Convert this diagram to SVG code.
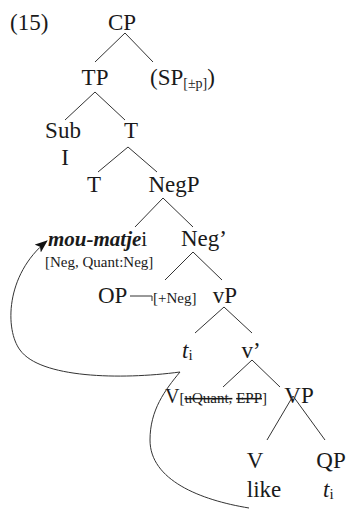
<svg xmlns="http://www.w3.org/2000/svg" width="348" height="509" viewBox="0 0 348 509">
<style>
text{font-family:"Liberation Serif","Times New Roman",serif;fill:#1a1a1a}
.n{font-size:23px;text-anchor:middle}
.s{font-size:15px}
.e{stroke:#333;stroke-width:1;fill:none}
.st{text-decoration:line-through}
</style>
<defs>
<marker id="ah" markerWidth="13" markerHeight="10" refX="12" refY="5" orient="auto" markerUnits="userSpaceOnUse"><path d="M0,0 L13,5 L0,10 L3,5 z" fill="#111"/></marker>
</defs>
<text x="10" y="30" style="font-size:23px">(15)</text>
<g id="cp"><text class="n" x="122" y="30">CP</text></g>
<g id="tp"><text class="n" x="95" y="85">TP</text></g>
<g id="sp"><text x="150" y="85" style="font-size:23px">(SP<tspan style="font-size:14px" dy="3">[±p]</tspan><tspan dy="-3">)</tspan></text></g>
<g id="sub"><text class="n" x="63" y="138">Sub</text><text class="n" x="65" y="165">I</text></g>
<g id="tbar"><text class="n" x="131" y="138">T</text></g>
<g id="t"><text class="n" x="94" y="192">T</text></g>
<g id="negp"><text class="n" x="174" y="192">NegP</text></g>
<g id="moumatje"><text x="48" y="246" style="font-size:21px;font-weight:bold;font-style:italic">mou-matje<tspan style="font-weight:normal;font-style:normal">i</tspan></text>
<text class="s" x="45" y="267">[Neg, Quant:Neg]</text></g>
<g id="negbar"><text class="n" x="204" y="246">Neg’</text></g>
<g id="op"><text x="98" y="303" style="font-size:23px">OP</text><path class="e" d="M130,296 H152 V301"/><text class="s" x="153" y="303">[+Neg]</text></g>
<g id="vp"><text class="n" x="225" y="303">vP</text></g>
<g id="ti1"><text x="182" y="358" style="font-size:23px"><tspan style="font-style:italic">t</tspan><tspan style="font-size:15px" dy="2">i</tspan></text></g>
<g id="vbar"><text class="n" x="251" y="358">v’</text></g>
<g id="v"><text x="165" y="403" style="font-size:20px">V<tspan style="font-size:15px">[<tspan class="st">uQuant,</tspan> <tspan class="st">EPP</tspan>]</tspan></text></g>
<g id="VP"><text class="n" x="299" y="403">VP</text></g>
<g id="Vlike"><text class="n" x="255" y="468">V</text><text class="n" x="264" y="497">like</text></g>
<g id="qp"><text class="n" x="331" y="468">QP</text><text x="323" y="497" style="font-size:23px"><tspan style="font-style:italic">t</tspan><tspan style="font-size:15px" dy="2">i</tspan></text></g>
<g id="edges">
<path class="e" d="M125,33 L95,62 M125,33 L153,62"/>
<path class="e" d="M95,92 L65,120 M95,92 L125,120"/>
<path class="e" d="M128,147 L98,172 M128,147 L157,172"/>
<path class="e" d="M163,198 L135,227 M163,198 L193,227"/>
<path class="e" d="M193,252 L165,280 M193,252 L222,280"/>
<path class="e" d="M224,307 L195,333 M224,307 L252,333"/>
<path class="e" d="M252,360 L223,387 M252,360 L280,387"/>
<path class="e" d="M293,396 L267,440 M293,396 L325,440"/>
<path class="e" d="M249,508 C200,500 150,480 150,440 C150,410 165,390 180,372 C120,380 40,378 20,350 C5,330 5,275 47,241" marker-end="url(#ah)"/>
</g>
</svg>
